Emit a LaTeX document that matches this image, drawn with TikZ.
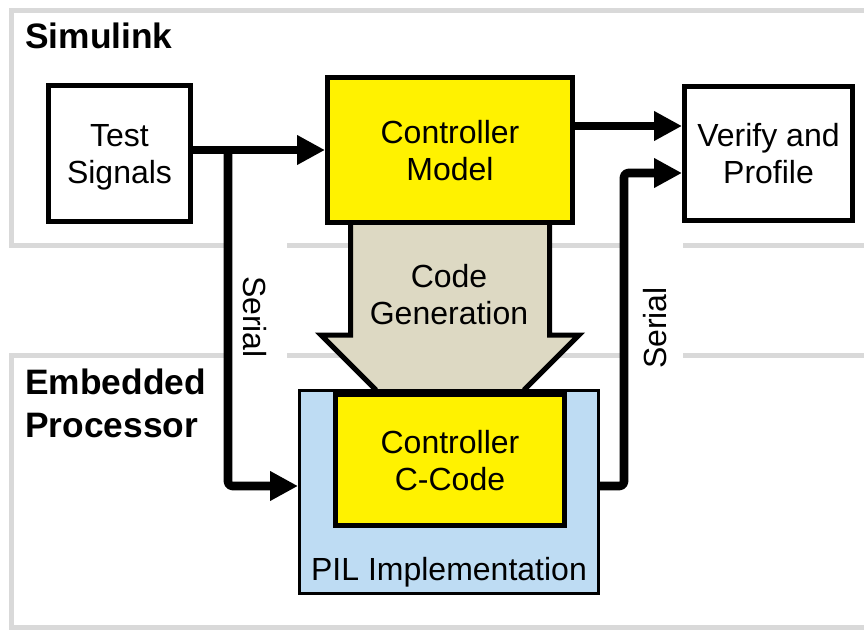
\documentclass[tikz,border=0pt]{standalone}
\usepackage{fontspec}
\setmainfont{Liberation Sans}
\usetikzlibrary{arrows.meta}
\definecolor{panelgray}{RGB}{217,217,217}
\definecolor{codegray}{RGB}{221,217,195}
\definecolor{pilblue}{RGB}{190,220,243}
\begin{document}
\begin{tikzpicture}[x=0.75pt,y=-0.75pt,
  lbl/.style={font=\fontsize{24}{27.75}\selectfont, align=center, text depth=0pt, inner sep=0pt},
  title/.style={font=\fontsize{26.5}{32.25}\selectfont\bfseries, align=left, text depth=0pt, inner sep=0pt},
  panel/.style={draw=panelgray, line width=3.75pt},
  blockbox/.style={draw=black, line width=3.75pt, rectangle, lbl},
  pilbox/.style={draw=black, line width=2.25pt, fill=pilblue, rectangle, inner sep=0pt},
  wire/.style={line width=6.4pt, line join=round, rounded corners=3pt},
  arr/.style={wire, -{Triangle[length=21pt,width=21pt]}}
]
\useasboundingbox (0,0) rectangle (864,629);
\clip (0,0) rectangle (864,629);
\fill[white] (0,0) rectangle (864,629);
% panels
\draw[panel] (11,10) rectangle (880,245);
\draw[panel] (11,355) rectangle (880,627);
\fill[white] (228,235) rectangle (287,365);
\fill[white] (624,235) rectangle (683,365);
% code generation arrow
\fill[codegray] (350.5,220) -- (350.5,335) -- (321,335) -- (376,390) -- (524,390) -- (579,335) -- (549.5,335) -- (549.5,220) -- cycle;
\draw[line width=3.75pt, line join=miter] (350.5,220) -- (350.5,335) -- (321,335) -- (376,390)
  (524,390) -- (579,335) -- (549.5,335) -- (549.5,220);
\node[lbl] (gen) at (449,294.5) {Code\\Generation};
% titles
\node[title, anchor=base west] (sim) at (25,48) {Simulink};
\node[title, anchor=south west] (emb) at (25,438) {Embedded\\Processor};
% blocks
\node[blockbox, minimum width=106.5pt, minimum height=102pt] (test) at (119.5,153.5) {Test\\Signals};
\node[blockbox, fill=yellow, minimum width=183.75pt, minimum height=108.75pt] (ctrl) at (450,150) {Controller\\Model};
\node[blockbox, minimum width=126pt, minimum height=100.5pt] (verify) at (768.5,153.5) {Verify and\\Profile};
\node[pilbox, minimum width=224.25pt, minimum height=152.25pt] (pil) at (449,492) {};
\node[blockbox, fill=yellow, minimum width=171.75pt, minimum height=98.25pt] (ccode) at (450,460) {Controller\\C-Code};
\node[lbl, anchor=base] (pillbl) at (449,580) {PIL Implementation};
% serial labels
\node[lbl, rotate=-90] (ser1) at (255,317) {Serial};
\node[lbl, rotate=90] (ser2) at (655,328) {Serial};
% wires
\coordinate (j1) at (228,150);
\coordinate (j2) at (228,486);
\coordinate (r1) at (0,126);
\coordinate (k1) at (624,486);
\coordinate (k2) at (624,173);
\draw[arr] (test.east |- ctrl.west) -- (ctrl.west);
\draw[arr] (j1) -- (j2) -- (j2 -| pil.west);
\draw[arr] (ctrl.east |- r1) -- (verify.west |- r1);
\draw[arr] (pil.east |- k1) -- (k1) -- (k2) -- (verify.west |- k2);
\end{tikzpicture}
\end{document}
